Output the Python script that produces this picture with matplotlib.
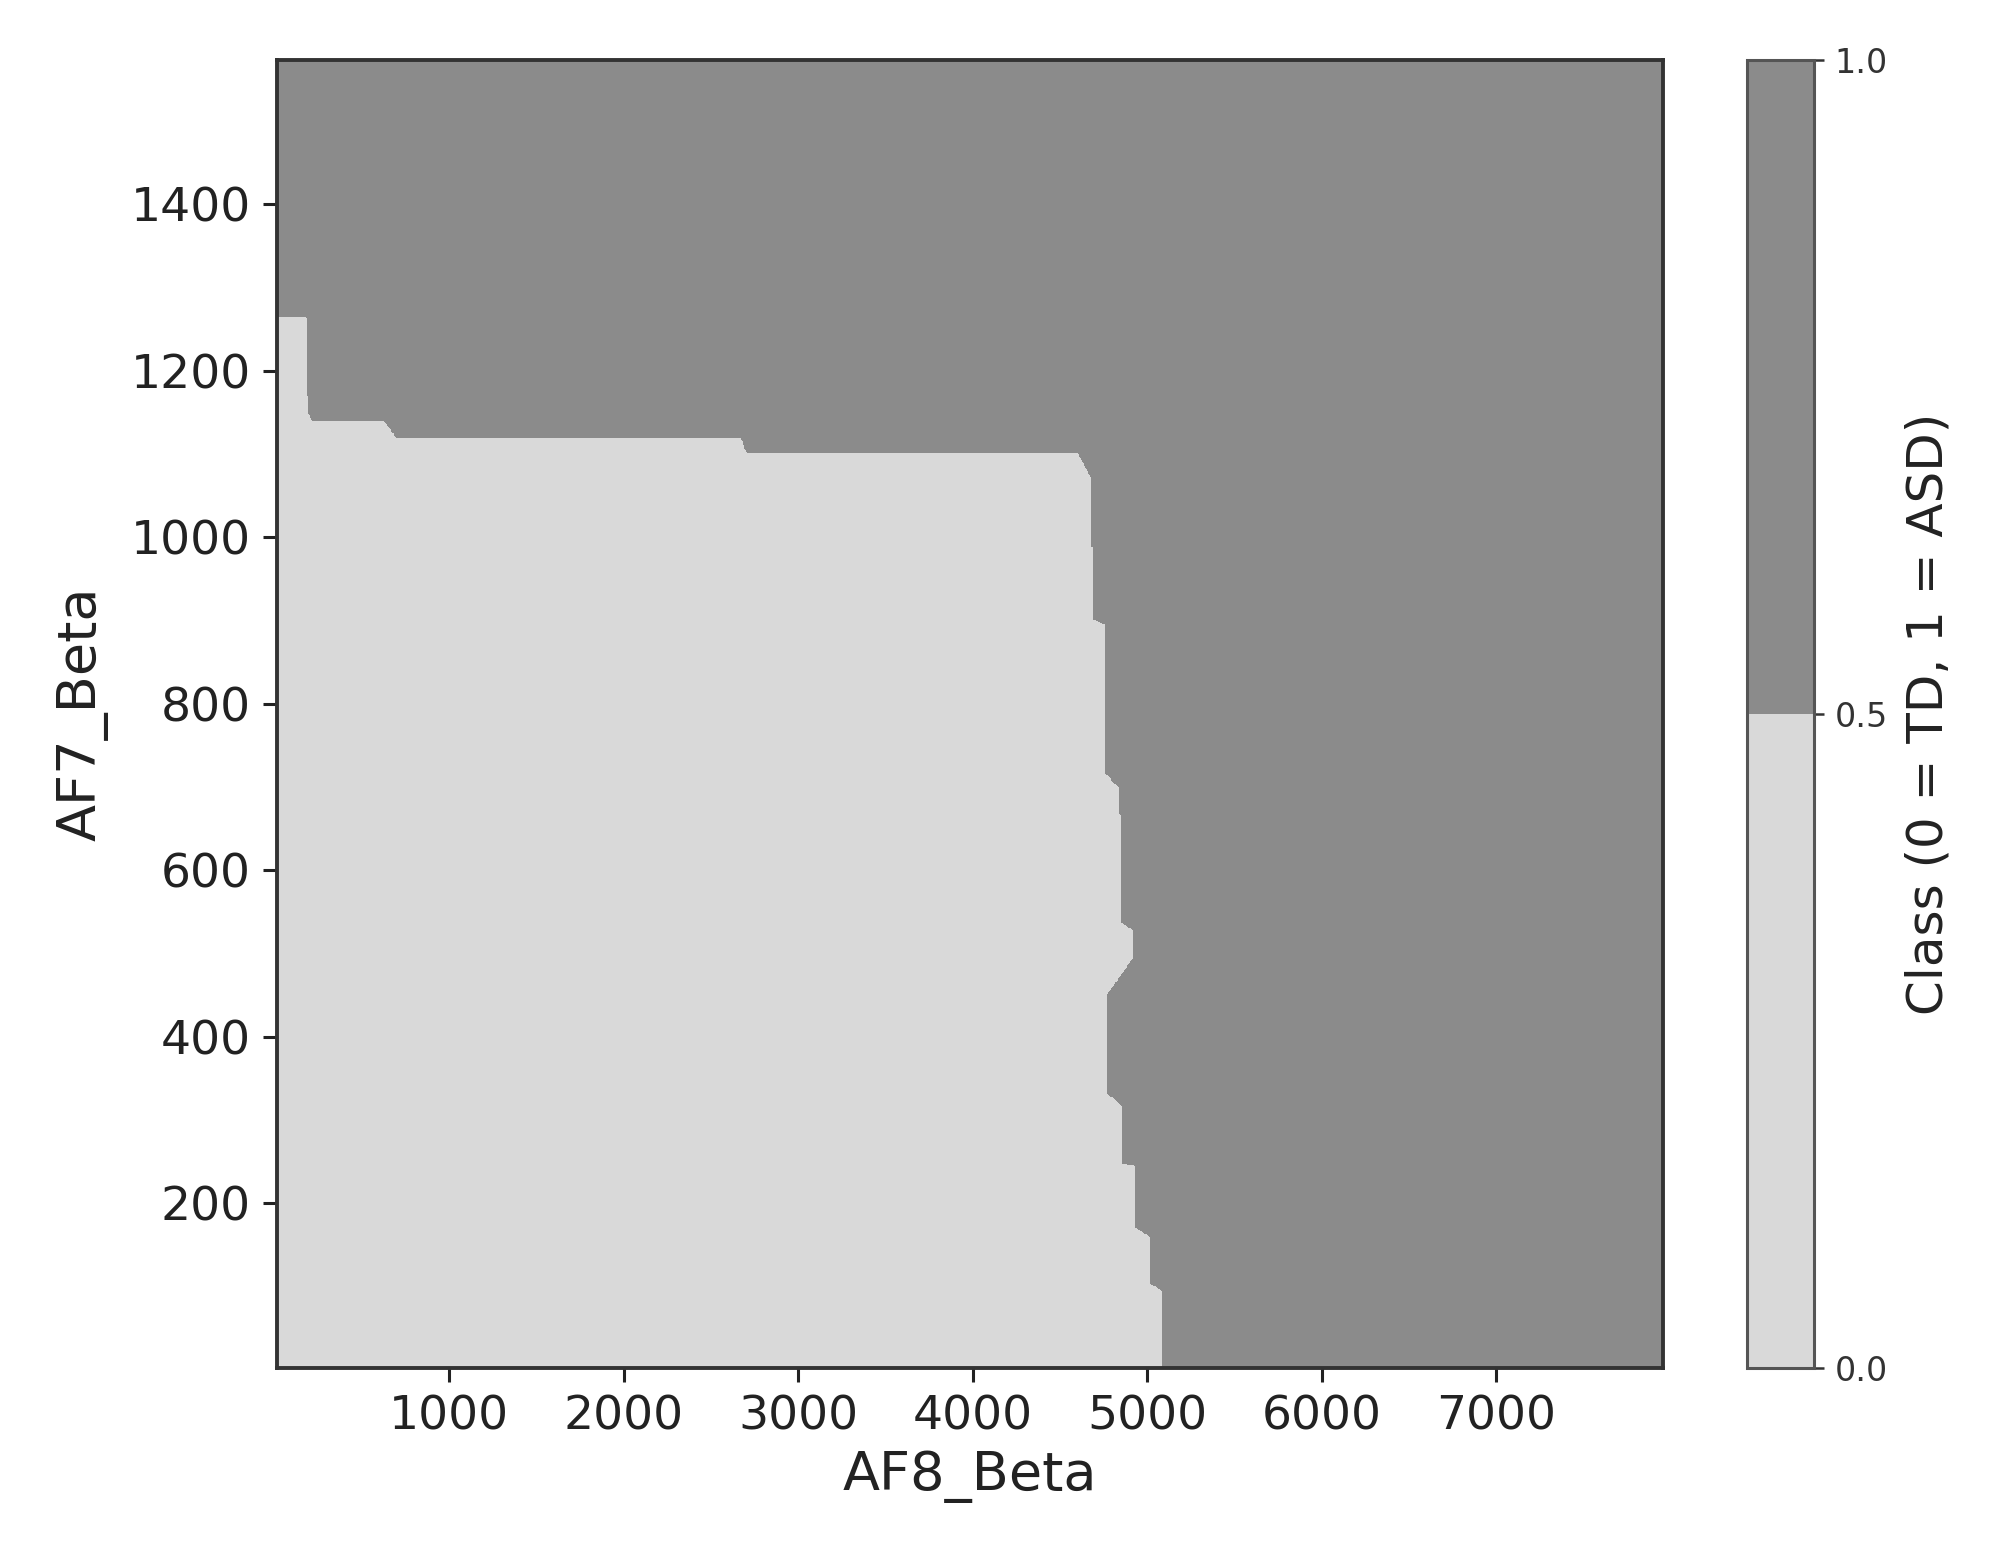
import numpy as np
import matplotlib
matplotlib.use('Agg')
import matplotlib.pyplot as plt
from matplotlib.colors import ListedColormap
from matplotlib.path import Path

# decision boundary of the TD (class 0) region
boundary_x = [-200, -200, 185, 192, 221, 628, 702, 2673, 2708, 4605, 4685, 4691,
              4759, 4759, 4845, 4855, 4920, 4920, 4771, 4771, 4857, 4857, 4931,
              4931, 5017, 5017, 5092, 5092]
boundary_y = [-200, 1264, 1264, 1150, 1140, 1140, 1120, 1120, 1102, 1102, 1070, 902,
              895, 718, 698, 537, 529, 493, 449, 333, 317, 248, 245, 172, 160,
              104, 95, -200]

x_limits = [14, 7957]
y_limits = [2, 1573]
class_levels = [0, 0.5, 1]
class_colors = ['#d9d9d9', '#8b8b8b']
cbar_ticks = [0.0, 0.5, 1.0]

# grid of class predictions
xx, yy = np.meshgrid(np.linspace(x_limits[0], x_limits[1], 900),
                     np.linspace(y_limits[0], y_limits[1], 900))
td_region = Path(np.column_stack([boundary_x, boundary_y]))
inside = td_region.contains_points(np.column_stack([xx.ravel(), yy.ravel()]))
Z = np.where(inside, 0, 1).reshape(xx.shape)

fig = plt.figure(figsize=(20.03, 15.52), dpi=100)
ax = fig.add_axes([0.1383, 0.1186, 0.6920, 0.8427])
cax = fig.add_axes([0.8722, 0.1186, 0.0334, 0.8427])

cs = ax.contourf(xx, yy, Z, levels=class_levels, cmap=ListedColormap(class_colors))
ax.set_xlim(x_limits)
ax.set_ylim(y_limits)

ax.set_xlabel('AF8_Beta', fontsize=39, color='#222222', labelpad=8)
ax.set_ylabel('AF7_Beta', fontsize=39, color='#222222', labelpad=16)
ax.tick_params(labelsize=34, colors='#222222', length=10, width=2.2, pad=9)
for sp in ax.spines.values():
    sp.set_linewidth(2.8)
    sp.set_color('#333333')

cb = fig.colorbar(cs, cax=cax, ticks=cbar_ticks)
cb.ax.tick_params(labelsize=24, length=7, width=1.8, colors='#333333', pad=8)
cb.outline.set_linewidth(2.2)
cb.outline.set_edgecolor('#555555')
cb.set_label('Class (0 = TD, 1 = ASD)', fontsize=36, color='#222222', labelpad=12)

fig.savefig('out.png', dpi=100)
